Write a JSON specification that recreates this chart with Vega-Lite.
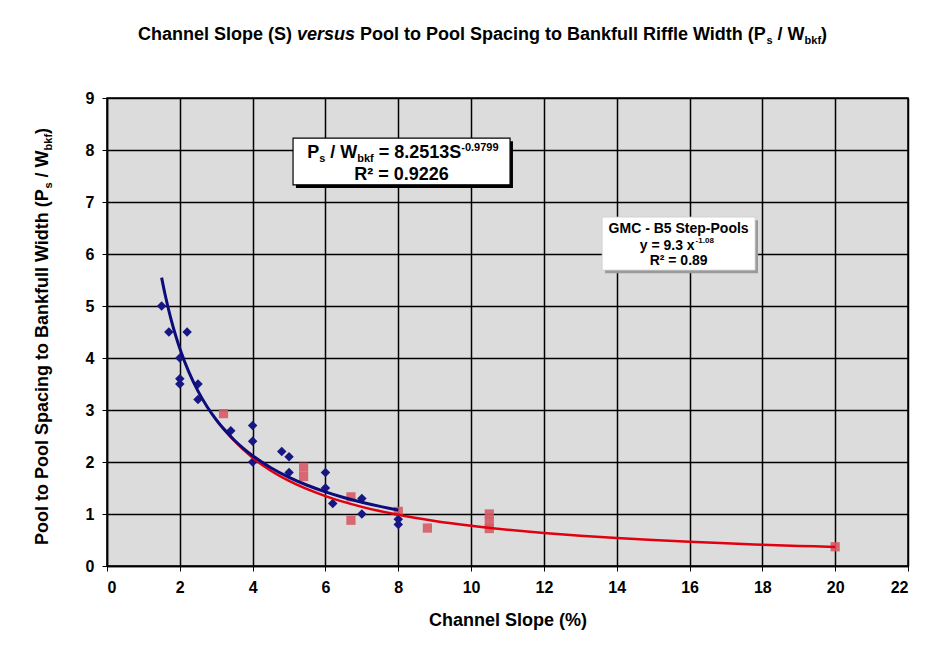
{
  "$schema": "https://vega.github.io/schema/vega-lite/v6.json",
  "width": 801,
  "height": 468,
  "autosize": {"type": "none"},
  "padding": {"left": 107, "top": 98, "right": 40, "bottom": 94},
  "background": "white",
  "config": {
    "font": "Liberation Sans",
    "view": {"fill": "#dcdcdc", "stroke": "black", "strokeWidth": 1.5},
    "text": {"font": "Liberation Sans", "fontWeight": "bold", "color": "black", "baseline": "alphabetic"},
    "axis": {
      "grid": true, "gridColor": "black", "gridWidth": 1.5, "gridOpacity": 1,
      "domainColor": "black", "domainWidth": 1.5, "tickColor": "black", "tickSize": 5,
      "labelFont": "Liberation Sans", "labelFontSize": 16, "labelFontWeight": "bold", "labelColor": "black",
      "titleFont": "Liberation Sans", "titleFontSize": 18, "titleFontWeight": "bold", "titleColor": "black"
    }
  },
  "datasets": {
    "blue": [
      {"x": 1.5, "y": 5.0}, {"x": 1.7, "y": 4.5}, {"x": 2.2, "y": 4.5}, {"x": 2.0, "y": 4.0},
      {"x": 2.0, "y": 3.6}, {"x": 2.0, "y": 3.5}, {"x": 2.5, "y": 3.5}, {"x": 2.5, "y": 3.2},
      {"x": 3.4, "y": 2.6}, {"x": 4.0, "y": 2.7}, {"x": 4.0, "y": 2.4}, {"x": 4.0, "y": 2.0},
      {"x": 4.8, "y": 2.2}, {"x": 5.0, "y": 2.1}, {"x": 5.0, "y": 1.8}, {"x": 6.0, "y": 1.8},
      {"x": 6.0, "y": 1.5}, {"x": 6.2, "y": 1.2}, {"x": 7.0, "y": 1.3}, {"x": 7.0, "y": 1.0},
      {"x": 8.0, "y": 0.9}, {"x": 8.0, "y": 0.8}
    ],
    "red": [
      {"x": 3.2, "y": 2.93}, {"x": 5.4, "y": 1.9}, {"x": 5.4, "y": 1.72}, {"x": 6.7, "y": 1.33},
      {"x": 6.7, "y": 0.88}, {"x": 8.0, "y": 1.05}, {"x": 8.8, "y": 0.73}, {"x": 10.5, "y": 1.0},
      {"x": 10.5, "y": 0.85}, {"x": 10.5, "y": 0.72}, {"x": 20.0, "y": 0.37}
    ],
    "fitB": [
      {"x": 1.5, "y": 5.546}, {"x": 1.6, "y": 5.206}, {"x": 1.75, "y": 4.768}, {"x": 1.9, "y": 4.399},
      {"x": 2.0, "y": 4.183}, {"x": 2.25, "y": 3.728}, {"x": 2.5, "y": 3.362}, {"x": 2.75, "y": 3.062},
      {"x": 3.0, "y": 2.812}, {"x": 3.5, "y": 2.418}, {"x": 4.0, "y": 2.121}, {"x": 4.5, "y": 1.890},
      {"x": 5.0, "y": 1.705}, {"x": 5.5, "y": 1.553}, {"x": 6.0, "y": 1.426}, {"x": 6.5, "y": 1.318},
      {"x": 7.0, "y": 1.226}, {"x": 7.5, "y": 1.146}, {"x": 8.0, "y": 1.075}
    ],
    "fitR": [
      {"x": 3.2, "y": 2.648}, {"x": 3.5, "y": 2.404}, {"x": 4.0, "y": 2.081}, {"x": 4.5, "y": 1.832},
      {"x": 5.0, "y": 1.635}, {"x": 6.0, "y": 1.343}, {"x": 7.0, "y": 1.137}, {"x": 8.0, "y": 0.984},
      {"x": 9.0, "y": 0.867}, {"x": 10.0, "y": 0.774}, {"x": 11.0, "y": 0.698}, {"x": 12.0, "y": 0.635},
      {"x": 13.0, "y": 0.583}, {"x": 14.0, "y": 0.538}, {"x": 15.0, "y": 0.499}, {"x": 16.0, "y": 0.466},
      {"x": 17.0, "y": 0.436}, {"x": 18.0, "y": 0.410}, {"x": 19.0, "y": 0.387}, {"x": 20.0, "y": 0.366}
    ],
    "one": [{}]
  },
  "layer": [
    {
      "data": {"name": "red"},
      "mark": {"type": "point", "shape": "square", "filled": true, "size": 85, "color": "#d65a64", "opacity": 0.9},
      "encoding": {
        "x": {"field": "x", "type": "quantitative", "scale": {"domain": [0, 22], "nice": false},
              "axis": {"values": [0, 2, 4, 6, 8, 10, 12, 14, 16, 18, 20, 22], "title": "Channel Slope (%)", "titlePadding": 16, "labelPadding": 8, "format": "d"}},
        "y": {"field": "y", "type": "quantitative", "scale": {"domain": [0, 9], "nice": false},
              "axis": {"values": [0, 1, 2, 3, 4, 5, 6, 7, 8, 9], "title": null, "labelPadding": 8, "format": "d"}}
      }
    },
    {
      "data": {"name": "blue"},
      "mark": {"type": "point", "shape": "diamond", "filled": true, "size": 90, "color": "#161685", "opacity": 1},
      "encoding": {
        "x": {"field": "x", "type": "quantitative"},
        "y": {"field": "y", "type": "quantitative"}
      }
    },
    {
      "data": {"name": "fitR"},
      "mark": {"type": "line", "color": "#e00010", "strokeWidth": 2.5, "interpolate": "monotone"},
      "encoding": {
        "x": {"field": "x", "type": "quantitative"},
        "y": {"field": "y", "type": "quantitative"}
      }
    },
    {
      "data": {"name": "fitB"},
      "mark": {"type": "line", "color": "#0c0c7a", "strokeWidth": 3, "interpolate": "monotone"},
      "encoding": {
        "x": {"field": "x", "type": "quantitative"},
        "y": {"field": "y", "type": "quantitative"}
      }
    },
    {
      "data": {"name": "one"},
      "mark": {"type": "rect", "color": "black"},
      "encoding": {"x": {"datum": 5.19}, "x2": {"datum": 11.15}, "y": {"datum": 8.17}, "y2": {"datum": 7.27}}
    },
    {
      "data": {"name": "one"},
      "mark": {"type": "rect", "fill": "white", "stroke": "black", "strokeWidth": 1.2},
      "encoding": {"x": {"datum": 5.11}, "x2": {"datum": 11.07}, "y": {"datum": 8.23}, "y2": {"datum": 7.33}}
    },
    {
      "data": {"name": "one"},
      "mark": {"type": "rect", "color": "#9a9a9a"},
      "encoding": {"x": {"datum": 13.68}, "x2": {"datum": 17.88}, "y": {"datum": 6.65}, "y2": {"datum": 5.63}}
    },
    {
      "data": {"name": "one"},
      "mark": {"type": "rect", "fill": "white", "stroke": "#cfcfcf", "strokeWidth": 0.8},
      "encoding": {"x": {"datum": 13.6}, "x2": {"datum": 17.8}, "y": {"datum": 6.71}, "y2": {"datum": 5.69}}
    },
    {
      "data": {"values": [{"t": "P"}]},
      "mark": {"type": "text", "align": "left", "fontSize": 18, "dx": 0},
      "encoding": {"x": {"datum": 5.5}, "y": {"datum": 7.846}, "text": {"field": "t"}}
    },
    {
      "data": {"values": [{"t": "s"}]},
      "mark": {"type": "text", "align": "left", "fontSize": 11, "dx": 12, "dy": 4},
      "encoding": {"x": {"datum": 5.5}, "y": {"datum": 7.846}, "text": {"field": "t"}}
    },
    {
      "data": {"values": [{"t": "/ W"}]},
      "mark": {"type": "text", "align": "left", "fontSize": 18, "dx": 23},
      "encoding": {"x": {"datum": 5.5}, "y": {"datum": 7.846}, "text": {"field": "t"}}
    },
    {
      "data": {"values": [{"t": "bkf"}]},
      "mark": {"type": "text", "align": "left", "fontSize": 11, "dx": 50, "dy": 4},
      "encoding": {"x": {"datum": 5.5}, "y": {"datum": 7.846}, "text": {"field": "t"}}
    },
    {
      "data": {"values": [{"t": "= 8.2513S"}]},
      "mark": {"type": "text", "align": "left", "fontSize": 18, "dx": 71.5},
      "encoding": {"x": {"datum": 5.5}, "y": {"datum": 7.846}, "text": {"field": "t"}}
    },
    {
      "data": {"values": [{"t": "-0.9799"}]},
      "mark": {"type": "text", "align": "left", "fontSize": 11, "dx": 154, "dy": -7},
      "encoding": {"x": {"datum": 5.5}, "y": {"datum": 7.846}, "text": {"field": "t"}}
    },
    {
      "data": {"values": [{"t": "R² = 0.9226"}]},
      "mark": {"type": "text", "align": "center", "fontSize": 18},
      "encoding": {"x": {"datum": 8.088}, "y": {"datum": 7.423}, "text": {"field": "t"}}
    },
    {
      "data": {"values": [{"t": "GMC - B5  Step-Pools"}]},
      "mark": {"type": "text", "align": "center", "fontSize": 14},
      "encoding": {"x": {"datum": 15.7}, "y": {"datum": 6.404}, "text": {"field": "t"}}
    },
    {
      "data": {"values": [{"t": "y = 9.3 x"}]},
      "mark": {"type": "text", "align": "right", "fontSize": 14, "dx": 16},
      "encoding": {"x": {"datum": 15.7}, "y": {"datum": 6.077}, "text": {"field": "t"}}
    },
    {
      "data": {"values": [{"t": "-1.08"}]},
      "mark": {"type": "text", "align": "left", "fontSize": 8, "dx": 17, "dy": -7},
      "encoding": {"x": {"datum": 15.7}, "y": {"datum": 6.077}, "text": {"field": "t"}}
    },
    {
      "data": {"values": [{"t": "R² = 0.89"}]},
      "mark": {"type": "text", "align": "center", "fontSize": 14},
      "encoding": {"x": {"datum": 15.7}, "y": {"datum": 5.788}, "text": {"field": "t"}}
    },
    {
      "data": {"values": [{"t": "Channel Slope (S)"}]},
      "mark": {"type": "text", "align": "left", "fontSize": 18, "dx": 0},
      "encoding": {"x": {"datum": 0.851}, "y": {"datum": 10.115}, "text": {"field": "t"}}
    },
    {
      "data": {"values": [{"t": "versus"}]},
      "mark": {"type": "text", "align": "left", "fontSize": 18, "fontStyle": "italic", "dx": 159},
      "encoding": {"x": {"datum": 0.851}, "y": {"datum": 10.115}, "text": {"field": "t"}}
    },
    {
      "data": {"values": [{"t": "Pool to Pool Spacing to Bankfull Riffle Width (P"}]},
      "mark": {"type": "text", "align": "left", "fontSize": 18, "dx": 222},
      "encoding": {"x": {"datum": 0.851}, "y": {"datum": 10.115}, "text": {"field": "t"}}
    },
    {
      "data": {"values": [{"t": "s"}]},
      "mark": {"type": "text", "align": "left", "fontSize": 11, "dx": 628.5, "dy": 4},
      "encoding": {"x": {"datum": 0.851}, "y": {"datum": 10.115}, "text": {"field": "t"}}
    },
    {
      "data": {"values": [{"t": "/ W"}]},
      "mark": {"type": "text", "align": "left", "fontSize": 18, "dx": 639.6},
      "encoding": {"x": {"datum": 0.851}, "y": {"datum": 10.115}, "text": {"field": "t"}}
    },
    {
      "data": {"values": [{"t": "bkf"}]},
      "mark": {"type": "text", "align": "left", "fontSize": 11, "dx": 666.6, "dy": 4},
      "encoding": {"x": {"datum": 0.851}, "y": {"datum": 10.115}, "text": {"field": "t"}}
    },
    {
      "data": {"values": [{"t": ")"}]},
      "mark": {"type": "text", "align": "left", "fontSize": 18, "dx": 683.1},
      "encoding": {"x": {"datum": 0.851}, "y": {"datum": 10.115}, "text": {"field": "t"}}
    },
    {
      "data": {"values": [{"t": "Pool to Pool Spacing to Bankfull Width (P"}]},
      "mark": {"type": "text", "align": "left", "angle": 270, "fontSize": 18, "dx": 0},
      "encoding": {"x": {"datum": -1.62}, "y": {"datum": 0.404}, "text": {"field": "t"}}
    },
    {
      "data": {"values": [{"t": "s"}]},
      "mark": {"type": "text", "align": "left", "angle": 270, "fontSize": 11, "dx": 356.5, "dy": 4},
      "encoding": {"x": {"datum": -1.62}, "y": {"datum": 0.404}, "text": {"field": "t"}}
    },
    {
      "data": {"values": [{"t": "/ W"}]},
      "mark": {"type": "text", "align": "left", "angle": 270, "fontSize": 18, "dx": 367.6},
      "encoding": {"x": {"datum": -1.62}, "y": {"datum": 0.404}, "text": {"field": "t"}}
    },
    {
      "data": {"values": [{"t": "bkf"}]},
      "mark": {"type": "text", "align": "left", "angle": 270, "fontSize": 11, "dx": 394.6, "dy": 4},
      "encoding": {"x": {"datum": -1.62}, "y": {"datum": 0.404}, "text": {"field": "t"}}
    },
    {
      "data": {"values": [{"t": ")"}]},
      "mark": {"type": "text", "align": "left", "angle": 270, "fontSize": 18, "dx": 411.1},
      "encoding": {"x": {"datum": -1.62}, "y": {"datum": 0.404}, "text": {"field": "t"}}
    }
  ]
}
